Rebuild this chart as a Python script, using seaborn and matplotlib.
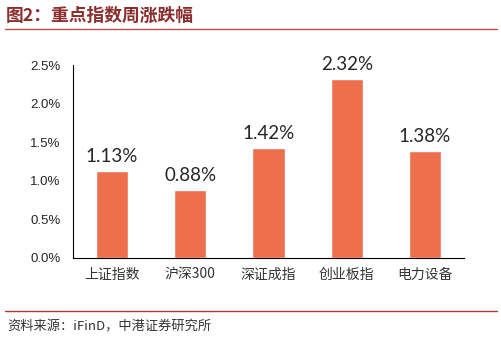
import matplotlib
matplotlib.use("Agg")
import matplotlib.pyplot as plt
import seaborn as sns
import pandas as pd
from matplotlib.ticker import FuncFormatter, FixedLocator

categories = ["上证指数", "沪深300", "深证成指", "创业板指", "电力设备"]
values = [1.13, 0.88, 1.42, 2.32, 1.38]
labels = ["1.13%", "0.88%", "1.42%", "2.32%", "1.38%"]

sns.set_style("white")
plt.rcParams['font.family'] = ['Liberation Sans', 'Noto Sans CJK SC', 'DejaVu Sans']

df = pd.DataFrame({"cat": categories, "val": values})
fig = plt.figure(figsize=(5.02, 3.40), dpi=100)
ax = fig.add_axes([73/502, 1-258/340, (464-73)/502, (258-65)/340])
sns.barplot(data=df, x="cat", y="val", color="#EE6F4B", width=0.41, saturation=1, ax=ax)
ax.set_xlim(-0.5, 4.5)
ax.set_ylim(0, 2.5)
ax.set_yticks([0, 0.5, 1.0, 1.5, 2.0, 2.5])
ax.yaxis.set_major_formatter(FuncFormatter(lambda v, p: f"{v:.1f}%"))
ax.set_xlabel("")
ax.set_ylabel("")
for s in ["top", "right"]:
    ax.spines[s].set_visible(False)
for s in ["left", "bottom"]:
    ax.spines[s].set_color("#000000")
    ax.spines[s].set_linewidth(0.8)
ax.tick_params(axis="y", direction="out", length=4, width=0.8, color="black", labelsize=9.5, pad=5)
for lbl in ax.get_yticklabels():
    lbl.set_family(['Liberation Sans', 'DejaVu Sans'])
ax.tick_params(axis="x", which="major", length=0, labelsize=10, pad=7)
for lbl in ax.get_xticklabels():
    lbl.set_family(['Noto Sans CJK SC', 'DejaVu Sans'])
    lbl.set_color("#333333")
ax.xaxis.set_minor_locator(FixedLocator([-0.5, 0.5, 1.5, 2.5, 3.5, 4.5]))
ax.tick_params(axis="x", which="minor", direction="out", length=4, width=0.8, color="black")
for i, (v, t) in enumerate(zip(values, labels)):
    ax.text(i, v + 0.08, t, ha="center", va="bottom", fontsize=13.5, family=['Lato', 'DejaVu Sans'])

fig.text(6/502, 1-16/340, "图2：重点指数周涨跌幅", fontsize=12.8, fontweight="bold", color="#8B2E2E",
         va="center", ha="left", family=['Noto Sans CJK SC', 'DejaVu Sans'])
fig.add_artist(plt.Line2D([5/502, 497/502], [1-29/340, 1-29/340], color="#C0504D", lw=1.0, transform=fig.transFigure))
fig.add_artist(plt.Line2D([5/502, 497/502], [1-311/340, 1-311/340], color="#A0412D", lw=1.0, transform=fig.transFigure))
fig.text(7/502, 1-327/340, "资料来源：iFinD，中港证券研究所", fontsize=9.5, style="italic", color="#333333",
         va="center", ha="left", family=['Noto Sans CJK SC', 'DejaVu Sans'])
fig.savefig("out.png", dpi=100)
